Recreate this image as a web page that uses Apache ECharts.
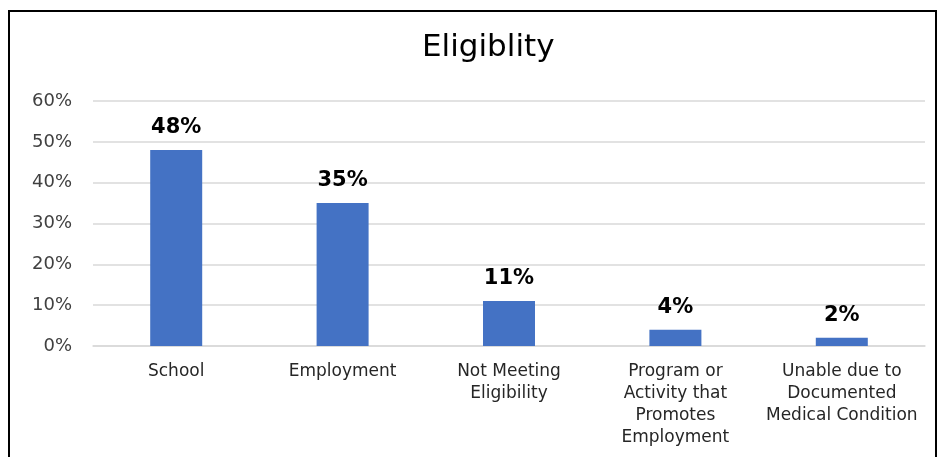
<!DOCTYPE html>
<html><head><meta charset="utf-8">
<script src="https://cdn.jsdelivr.net/npm/echarts@6/dist/echarts.min.js"></script>
<style>html,body{margin:0;padding:0;background:#fff}#c{width:942px;height:457px}
#frame{position:absolute;left:8px;top:10px;width:929px;height:460px;border:2px solid #000;box-sizing:border-box;pointer-events:none}</style>
</head><body><div id="c"></div><div id="frame"></div>
<script>
const categories = ["School", "Employment", "Not Meeting\nEligibility", "Program or\nActivity that\nPromotes\nEmployment", "Unable due to\nDocumented\nMedical Condition"];
const values = [48, 35, 11, 4, 2];
const yTicks = [0, 10, 20, 30, 40, 50, 60];

const chart = echarts.init(document.getElementById('c'));
chart.setOption({
  animation: false,
  title: {text: 'Eligiblity', left: 417, top: 27, textStyle: {fontFamily: 'DejaVu Sans', fontSize: 31, fontWeight: 'normal', color: '#000'}},
  grid: {left: 93, right: 17, top: 101, bottom: 111},
  xAxis: {type: 'category', data: categories,
    axisLine: {lineStyle: {color: '#d9d9d9', width: 1.5}}, axisTick: {show: false},
    axisLabel: {margin: 15, fontFamily: 'DejaVu Sans', fontSize: 17, lineHeight: 22, color: '#262626', interval: 0}},
  yAxis: {type: 'value', min: yTicks[0], max: yTicks[yTicks.length-1], interval: 10,
    axisLabel: {formatter: '{value}%', margin: 21, fontFamily: 'DejaVu Sans', fontSize: 18, color: '#404040'},
    splitLine: {lineStyle: {color: '#d9d9d9', width: 1.5}}, axisLine: {show: false}, axisTick: {show: false}},
  series: [{type: 'bar', data: values, barWidth: 52, itemStyle: {color: '#4472C4'},
    label: {show: true, position: 'top', distance: 12, formatter: '{c}%', fontFamily: 'DejaVu Sans', fontSize: 21, fontWeight: 'bold', color: '#000'}}]
});
</script></body></html>
